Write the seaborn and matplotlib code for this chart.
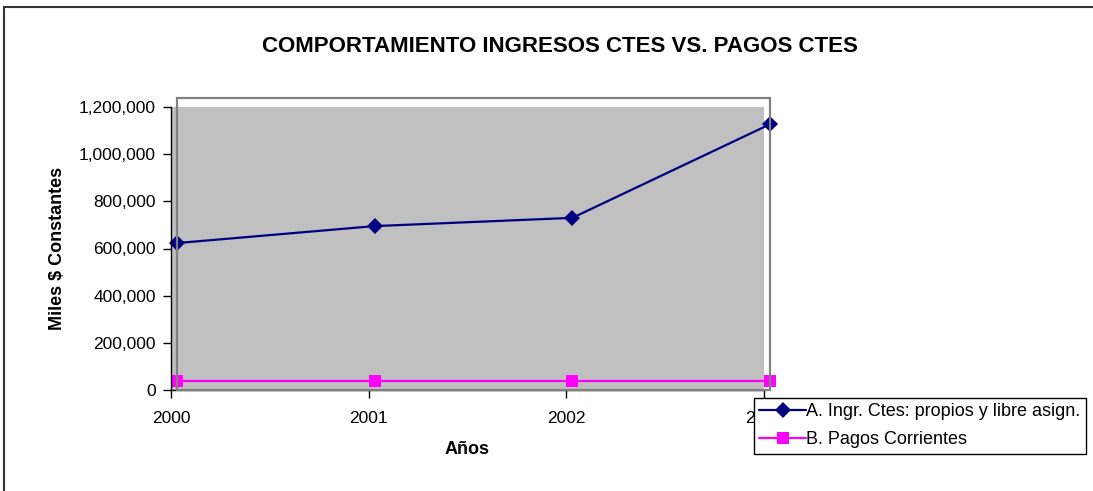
import matplotlib
matplotlib.use("Agg")
import matplotlib.pyplot as plt
import matplotlib.transforms as mtransforms
from matplotlib.patches import Rectangle
from matplotlib.ticker import FuncFormatter
import pandas as pd
import seaborn as sns

years = [2000, 2001, 2002, 2003]
ingresos = [623000, 695000, 730000, 1127000]
pagos = [38000, 38000, 38000, 38000]
serie_a = "A. Ingr. Ctes: propios y libre asign."
serie_b = "B. Pagos Corrientes"

df = pd.DataFrame({"Año": years * 2,
                   "valor": ingresos + pagos,
                   "serie": [serie_a] * 4 + [serie_b] * 4})

sns.set_theme(style="white")
plt.rcParams["font.family"] = ["Liberation Sans", "DejaVu Sans"]
plt.rcParams["text.color"] = "black"
plt.rcParams["axes.labelcolor"] = "black"

W, H = 1093, 491
fig = plt.figure(figsize=(W / 100, H / 100), dpi=100)
ax = fig.add_axes([171 / W, 1 - 390 / H, (764 - 171) / W, (390 - 107) / H])
ax.set_facecolor("#C0C0C0")

# the plot area outline is drawn a few pixels off in the original
fig.patches.append(Rectangle((177 / W, 1 - 390 / H), (770 - 177) / W, (390 - 98) / H,
                             transform=fig.transFigure, fill=False,
                             edgecolor="#808080", linewidth=1.6, zorder=0.5))
# chart border (top and left only visible)
fig.patches.append(Rectangle((4 / W, -0.2), 1.2, 1.2 - 7 / H,
                             transform=fig.transFigure, fill=False,
                             edgecolor="#333333", linewidth=1.5, zorder=0))

shift = mtransforms.ScaledTranslation(6 / 100, 0, fig.dpi_scale_trans)
sns.lineplot(data=df, x="Año", y="valor", hue="serie", style="serie",
             palette={serie_a: "#000080", serie_b: "#FF00FF"},
             markers={serie_a: "D", serie_b: "s"}, dashes=False,
             markersize=8, linewidth=1.6, markeredgewidth=0,
             ax=ax, legend=False, clip_on=False,
             transform=ax.transData + shift)
ax.lines[1].set_markersize(9)

ax.set_xlim(2000, 2003)
ax.set_ylim(0, 1200000)
ax.set_xticks(years)
ax.set_yticks(range(0, 1200001, 200000))
ax.yaxis.set_major_formatter(FuncFormatter(lambda v, p: f"{int(v):,}"))
ax.tick_params(axis="both", labelsize=12.5, colors="black", length=6, width=1,
               direction="out", left=True, bottom=True)
ax.tick_params(axis="x", pad=9)
ax.tick_params(axis="y", pad=5)
for s in ["top", "right"]:
    ax.spines[s].set_visible(False)
for s in ["left", "bottom"]:
    ax.spines[s].set_color("black")
    ax.spines[s].set_linewidth(1)

ax.set_xlabel("Años", fontsize=13, fontweight="bold", va="center")
ax.set_ylabel("Miles $ Constantes", fontsize=13, fontweight="bold", va="center")
ax.xaxis.set_label_coords((467 - 171) / 593, (390 - 449) / 283)
ax.yaxis.set_label_coords((57 - 171) / 593, 0.5)
fig.text(560 / W, 1 - 47 / H, "COMPORTAMIENTO INGRESOS CTES VS. PAGOS CTES",
         ha="center", va="center", fontsize=16, fontweight="bold", color="black")

handles = [plt.Line2D([], [], color="#000080", marker="D", markersize=8, lw=1.6, markeredgewidth=0),
           plt.Line2D([], [], color="#FF00FF", marker="s", markersize=9, lw=1.6, markeredgewidth=0)]
leg = fig.legend(handles, [serie_a, serie_b], loc="upper left",
                 bbox_to_anchor=(754 / W, 1 - 398 / H), fontsize=13,
                 frameon=True, fancybox=False, shadow=False, framealpha=1,
                 facecolor="white", handlelength=2.6,
                 handletextpad=0.0, borderpad=0.3, labelspacing=0.6, borderaxespad=0)
leg.get_frame().set_edgecolor("black")
leg.get_frame().set_linewidth(1)
leg.set_zorder(10)

fig.savefig("out.png", dpi=100)
